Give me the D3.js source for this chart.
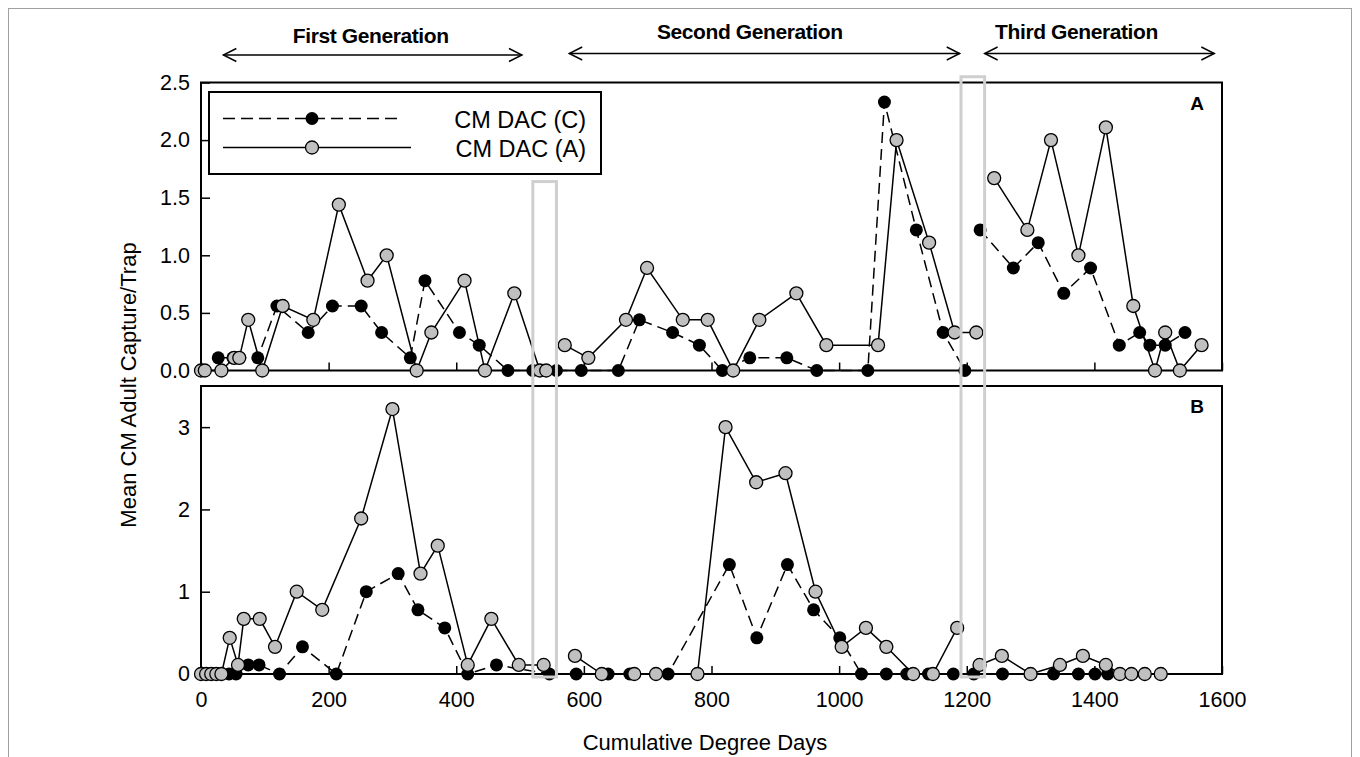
<!DOCTYPE html>
<html>
<head lang="en">
  <meta charset="utf-8">
  <title>CM DAC adult captures</title>
  <script src="https://d3js.org/d3.v7.min.js" charset="utf-8"></script>
  <style>
    body { margin: 0; background: #fff; }
    svg text { font-family: "Liberation Sans", Arial, sans-serif; fill: #000; }
  </style>
</head>
<body>
  <script>
    // values: [cumulative degree days, mean capture/trap]
    // panel A
    var topC = [[27,0.11],[50,0.11],[89,0.11],[119,0.56],[168,0.33],[206,0.56],[251,0.56],[283,0.33],
      [328,0.11],[351,0.78],[405,0.33],[436,0.22],[481,0],[520,0],[557,0],[596,0],[654,0],[687,0.44],
      [739,0.33],[781,0.22],[817,0],[860,0.11],[918,0.11],[965,0],[1045,0],[1071,2.33],[1121,1.22],
      [1163,0.33],[1197,0],[1221,1.22],[1273,0.89],[1312,1.11],[1352,0.67],[1394,0.89],[1439,0.22],
      [1471,0.33],[1487,0.22],[1511,0.22],[1542,0.33]];
    var topA = [[0,0],[6,0],[32,0],[52,0.11],[60,0.11],[74,0.44],[96,0],[128,0.56],[176,0.44],[216,1.44],
      [261,0.78],[291,1.0],[338,0],[361,0.33],[413,0.78],[445,0],[491,0.67],[531,0],[541,0],[570,0.22],
      [607,0.11],[666,0.44],[699,0.89],[755,0.44],[794,0.44],[834,0],[875,0.44],[933,0.67],[980,0.22],
      [1061,0.22],[1090,2.0],[1141,1.11],[1181,0.33],[1215,0.33],[1243,1.67],[1295,1.22],[1332,2.0],
      [1375,1.0],[1418,2.11],[1461,0.56],[1495,0],[1511,0.33],[1534,0],[1568,0.22]];
    // panel B
    var botC = [[44,0],[55,0],[74,0.11],[91,0.11],[123,0],[159,0.33],[212,0],[259,1.0],[309,1.22],
      [340,0.78],[382,0.56],[418,0],[463,0.11],[546,0],[588,0],[638,0],[672,0],[732,0],[828,1.33],
      [871,0.44],[919,1.33],[960,0.78],[1001,0.44],[1035,0],[1074,0],[1106,0],[1140,0],[1179,0],
      [1211,0],[1256,0],[1336,0],[1375,0],[1401,0],[1421,0]];
    var botA = [[0,0],[8,0],[16,0],[24,0],[32,0],[45,0.44],[58,0.11],[67,0.67],[92,0.67],[116,0.33],
      [150,1.0],[190,0.78],[251,1.89],[300,3.22],[344,1.22],[371,1.56],[418,0.11],[455,0.67],[498,0.11],
      [537,0.11],[586,0.22],[628,0],[679,0],[713,0],[778,0],[822,3.0],[870,2.33],[916,2.44],[963,1.0],
      [1004,0.33],[1042,0.56],[1074,0.33],[1116,0],[1147,0],[1185,0.56],[1220,0.11],[1255,0.22],
      [1300,0],[1346,0.11],[1382,0.22],[1418,0.11],[1440,0],[1458,0],[1479,0],[1504,0]];

    // where the plotted lines break between generations (degree days)
    var topBreaks = [555, 1218];
    var botBreaks = [560, 1200];

    var xTicks = [0, 200, 400, 600, 800, 1000, 1200, 1400, 1600];
    var topYTicks = [0, 0.5, 1.0, 1.5, 2.0, 2.5];
    var botYTicks = [0, 1, 2, 3];
    var seriesNames = ["CM DAC (C)", "CM DAC (A)"];

    // generation spans in degree days
    var genNames = ["First Generation", "Second Generation", "Third Generation"];
    var genStart = [35, 577, 1228];
    var genEnd = [503, 1189, 1588];
    var genLabelAt = [266, 860, 1372];
    // highlighted windows (degree days)
    var winFrom = [520, 1191];
    var winTo = [557, 1228];

    var width = 1360, height = 757;

    var svg = d3.select("body").append("svg")
      .attr("width", width)
      .attr("height", height);

    // outer frame of the figure
    svg.append("rect")
      .attr("x", 8.5).attr("y", 8.5)
      .attr("width", 1343).attr("height", 780)
      .attr("fill", "none")
      .attr("stroke", "#a0a0a0")
      .attr("stroke-width", 1);

    var x = d3.scaleLinear().domain([0, 1600]).range([201, 1222]);
    var yTop = d3.scaleLinear().domain([0, 2.5]).range([370.5, 82.5]);
    var yBot = d3.scaleLinear().domain([0, 3.5]).range([674, 386]);

    // split a series into pieces at the break points
    function pieces(data, breaks) {
      var edges = [-Infinity].concat(breaks, [Infinity]);
      var out = [];
      for (var i = 0; i < edges.length - 1; i++) {
        out.push(data.filter(function(d) { return d[0] > edges[i] && d[0] <= edges[i + 1]; }));
      }
      return out;
    }

    function panel(y, dataC, dataA, breaks, yTicks, fmt, letter, xLabels) {
      var g = svg.append("g");

      g.append("g")
        .attr("transform", "translate(" + x(0) + ",0)")
        .call(d3.axisLeft(y).tickValues(yTicks).tickFormat(fmt)
          .tickSizeInner(-9).tickSizeOuter(0).tickPadding(11))
        .call(function(a) {
          a.select(".domain").remove();
          a.selectAll("line").attr("stroke-width", 1.5);
          a.selectAll("text").attr("font-size", 21.5).attr("font-family", null);
        });

      g.append("g")
        .attr("transform", "translate(0," + y(0) + ")")
        .call(d3.axisBottom(x).tickValues(xTicks).tickFormat(xLabels ? d3.format("d") : "")
          .tickSizeInner(-8).tickSizeOuter(0).tickPadding(18))
        .call(function(a) {
          a.select(".domain").remove();
          a.selectAll("line").attr("stroke-width", 1.5);
          a.selectAll("text").attr("font-size", 21.5).attr("font-family", null);
        });

      g.append("rect")
        .attr("x", x(0)).attr("y", y.range()[1])
        .attr("width", x(1600) - x(0))
        .attr("height", y(0) - y.range()[1])
        .attr("fill", "none")
        .attr("stroke", "#000")
        .attr("stroke-width", 2);

      var line = d3.line()
        .x(function(d) { return x(d[0]); })
        .y(function(d) { return y(d[1]); });

      g.selectAll("path.c")
        .data(pieces(dataC, breaks))
        .enter().append("path")
          .attr("class", "c")
          .attr("d", line)
          .attr("fill", "none")
          .attr("stroke", "#000")
          .attr("stroke-width", 1.5)
          .attr("stroke-dasharray", "11,6");

      g.selectAll("path.a")
        .data(pieces(dataA, breaks))
        .enter().append("path")
          .attr("class", "a")
          .attr("d", line)
          .attr("fill", "none")
          .attr("stroke", "#000")
          .attr("stroke-width", 1.5);

      g.selectAll("circle.c")
        .data(dataC)
        .enter().append("circle")
          .attr("class", "c")
          .attr("cx", function(d) { return x(d[0]); })
          .attr("cy", function(d) { return y(d[1]); })
          .attr("r", 6.5)
          .attr("fill", "#000");

      g.selectAll("circle.a")
        .data(dataA)
        .enter().append("circle")
          .attr("class", "a")
          .attr("cx", function(d) { return x(d[0]); })
          .attr("cy", function(d) { return y(d[1]); })
          .attr("r", 6.5)
          .attr("fill", "#c0c0c0")
          .attr("stroke", "#000")
          .attr("stroke-width", 1.3);

      g.append("text")
        .attr("x", 1197).attr("y", y.range()[1] + 27)
        .attr("text-anchor", "middle")
        .attr("font-size", 19)
        .attr("font-weight", "bold")
        .text(letter);
    }

    panel(yTop, topC, topA, topBreaks, topYTicks, d3.format(".1f"), "A", false);
    panel(yBot, botC, botA, botBreaks, botYTicks, d3.format("d"), "B", true);

    // legend
    var leg = svg.append("g");
    leg.append("rect")
      .attr("x", 209).attr("y", 92)
      .attr("width", 392).attr("height", 82)
      .attr("fill", "#fff")
      .attr("stroke", "#000")
      .attr("stroke-width", 2);
    leg.append("line")
      .attr("x1", 223).attr("x2", 400).attr("y1", 118.5).attr("y2", 118.5)
      .attr("stroke", "#000").attr("stroke-width", 1.5)
      .attr("stroke-dasharray", "12,6");
    leg.append("circle")
      .attr("cx", 312).attr("cy", 118.5).attr("r", 6.5).attr("fill", "#000");
    leg.append("line")
      .attr("x1", 223).attr("x2", 411).attr("y1", 147.5).attr("y2", 147.5)
      .attr("stroke", "#000").attr("stroke-width", 1.5);
    leg.append("circle")
      .attr("cx", 312).attr("cy", 147.5).attr("r", 6.5)
      .attr("fill", "#c0c0c0").attr("stroke", "#000").attr("stroke-width", 1.3);
    leg.selectAll("text")
      .data(seriesNames)
      .enter().append("text")
        .attr("x", 586)
        .attr("y", function(d, i) { return 127.5 + i * 29; })
        .attr("text-anchor", "end")
        .attr("font-size", 23.5)
        .text(function(d) { return d; });

    // generation arrows
    function chevron(x0, y0, dir) {
      return "M" + (x0 + dir * 13) + "," + (y0 - 6.5) + "L" + x0 + "," + y0 + "L" + (x0 + dir * 13) + "," + (y0 + 6.5);
    }
    genNames.forEach(function(name, i) {
      var ay = i === 0 ? 55 : 53.5;
      var g = svg.append("g");
      g.append("line")
        .attr("x1", x(genStart[i])).attr("x2", x(genEnd[i]))
        .attr("y1", ay).attr("y2", ay)
        .attr("stroke", "#000").attr("stroke-width", 1.4);
      g.append("path")
        .attr("d", chevron(x(genStart[i]), ay, 1) + chevron(x(genEnd[i]), ay, -1))
        .attr("fill", "none").attr("stroke", "#000").attr("stroke-width", 1.4);
      g.append("text")
        .attr("x", x(genLabelAt[i]))
        .attr("y", i === 0 ? 42.5 : 38.5)
        .attr("text-anchor", "middle")
        .attr("font-size", 21)
        .attr("font-weight", "bold")
        .attr("letter-spacing", -0.4)
        .text(name);
    });

    // highlighted windows across both panels
    var winTop = [1.64, 2.55];
    winFrom.forEach(function(f, i) {
      svg.append("rect")
        .attr("x", x(f)).attr("y", yTop(winTop[i]))
        .attr("width", x(winTo[i]) - x(f))
        .attr("height", yBot(0) + 3 - yTop(winTop[i]))
        .attr("fill", "none")
        .attr("stroke", "#cfcfcf")
        .attr("stroke-width", 3);
    });

    // axis titles
    svg.append("text")
      .attr("x", 705).attr("y", 750)
      .attr("text-anchor", "middle")
      .attr("font-size", 22)
      .text("Cumulative Degree Days");

    svg.append("text")
      .attr("transform", "translate(136,385) rotate(-90)")
      .attr("text-anchor", "middle")
      .attr("font-size", 22)
      .text("Mean CM Adult Capture/Trap");
  </script>
</body>
</html>
